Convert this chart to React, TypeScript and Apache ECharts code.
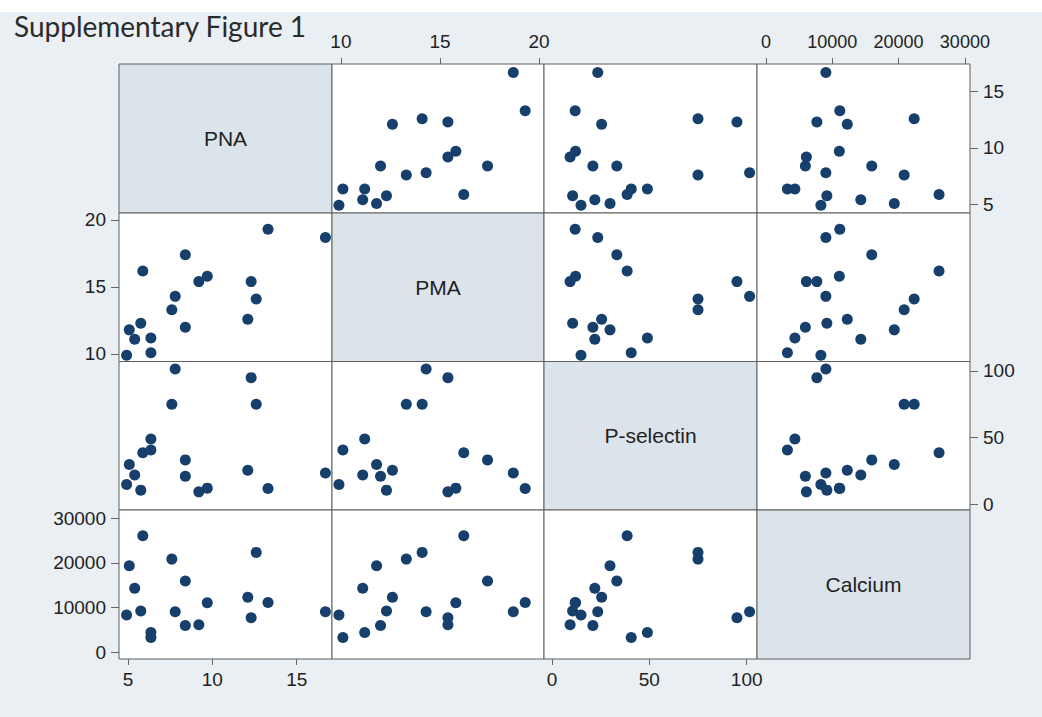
import React, { useEffect, useRef } from "react";
import * as echarts from "echarts";

// Observations (18 subjects)
const pna = [4.92, 5.08, 5.4, 5.76, 5.88, 6.36, 6.36, 7.6, 7.8, 8.4, 8.4, 9.2, 9.7, 12.1, 12.3, 12.6, 13.3, 16.7];
const pma = [9.9, 11.8, 11.1, 12.3, 16.2, 11.2, 10.1, 13.3, 14.3, 17.4, 12.0, 15.4, 15.8, 12.6, 15.4, 14.1, 19.3, 18.7];
const psel = [14.9, 29.8, 22, 10.6, 38.6, 49, 40.7, 75, 101.5, 33.3, 21, 9.3, 12.1, 25.5, 95, 75, 11.9, 23.5];
const calcium = [8280, 19350, 14300, 9180, 26100, 4360, 3230, 20840, 9030, 15950, 5940, 6090, 11060, 12260, 7670, 22350, 11130, 9030];

const varNames = ["PNA", "PMA", "P-selectin", "Calcium"];
const tickValues = [
  [5, 10, 15],
  [10, 15, 20],
  [0, 50, 100],
  [0, 10000, 20000, 30000],
];

export default function App() {
  const ref = useRef<HTMLDivElement>(null);

  useEffect(() => {
    if (!ref.current) return;
    const chart = echarts.init(ref.current, null, { renderer: "svg" });
    const vars = [pna, pma, psel, calcium];
    const xRange = [
      [4.47, 17.09],
      [9.55, 20.25],
      [-4.1, 105.3],
      [-1357, 30770],
    ];
    const yRange = [
      [4.23, 17.45],
      [9.44, 20.52],
      [-4.3, 107.1],
      [-1570, 31860],
    ];
    const colX = [119, 332, 544, 757, 970];
    const rowY = [64, 213, 361.5, 510, 659];
    const diagColor = "#dbe4eb";
    const font = "'Liberation Sans', Arial, sans-serif";
    const fmt = (v: number) => String(Math.round(v));

    const grids: any[] = [];
    const xAxes: any[] = [];
    const yAxes: any[] = [];
    const series: any[] = [];
    const graphics: any[] = [
      { type: "rect", shape: { x: 0, y: 0, width: 1042, height: 12 }, style: { fill: "#ffffff" }, silent: true },
      {
        type: "text",
        x: 14,
        y: 12,
        style: {
          text: "Supplementary Figure 1",
          fontFamily: "Lato, 'Open Sans', sans-serif",
          fontSize: 28,
          fill: "#2b2b2b",
        },
      },
    ];

    for (let r = 0; r < 4; r++) {
      for (let c = 0; c < 4; c++) {
        const i = r * 4 + c;
        const diag = r === c;
        grids.push({
          left: colX[c],
          top: rowY[r],
          width: colX[c + 1] - colX[c],
          height: rowY[r + 1] - rowY[r],
          show: true,
          backgroundColor: diag ? diagColor : "#ffffff",
          borderColor: "#5f5f5f",
          borderWidth: 1,
          containLabel: false,
        });
        const showX = (r === 0 && (c === 1 || c === 3)) || (r === 3 && (c === 0 || c === 2));
        const showY = (c === 3 && (r === 0 || r === 2)) || (c === 0 && (r === 1 || r === 3));
        xAxes.push({
          gridIndex: i,
          type: "value",
          min: xRange[c][0],
          max: xRange[c][1],
          position: r === 0 ? "top" : "bottom",
          axisLine: { show: false, onZero: false },
          splitLine: { show: false },
          axisTick: {
            show: showX,
            customValues: tickValues[c],
            length: 6,
            lineStyle: { color: "#666" },
          },
          axisLabel: {
            show: showX,
            customValues: tickValues[c],
            margin: r === 0 ? 13 : 11,
            formatter: fmt,
            fontFamily: font,
            fontSize: c === 3 ? 18 : 19,
            color: "#222",
          },
        });
        yAxes.push({
          gridIndex: i,
          type: "value",
          min: yRange[r][0],
          max: yRange[r][1],
          position: c === 3 ? "right" : "left",
          axisLine: { show: false, onZero: false },
          splitLine: { show: false },
          axisTick: {
            show: showY,
            customValues: tickValues[r],
            length: 8,
            lineStyle: { color: "#666" },
          },
          axisLabel: {
            show: showY,
            customValues: tickValues[r],
            margin: 13,
            formatter: fmt,
            fontFamily: font,
            fontSize: 19,
            color: "#222",
          },
        });
        if (diag) {
          graphics.push({
            type: "text",
            x: (colX[c] + colX[c + 1]) / 2,
            y: (rowY[r] + rowY[r + 1]) / 2,
            style: {
              text: varNames[r],
              fontFamily: font,
              fontSize: 21,
              fill: "#222",
              align: "center",
              verticalAlign: "middle",
            },
          });
        } else {
          series.push({
            type: "scatter",
            xAxisIndex: i,
            yAxisIndex: i,
            symbolSize: 11,
            itemStyle: { color: "#173f6c", opacity: 1 },
            data: vars[c].map((v, k) => [v, vars[r][k]]),
          });
        }
      }
    }

    chart.setOption({
      animation: false,
      backgroundColor: "#e9eff3",
      textStyle: { fontFamily: font, fontSize: 19, color: "#222" },
      grid: grids,
      xAxis: xAxes,
      yAxis: yAxes,
      series,
      graphic: graphics,
    });
    return () => chart.dispose();
  }, []);

  return (
    <div
      ref={ref}
      style={{ position: "absolute", left: 0, top: 0, width: 1042, height: 717 }}
    />
  );
}
